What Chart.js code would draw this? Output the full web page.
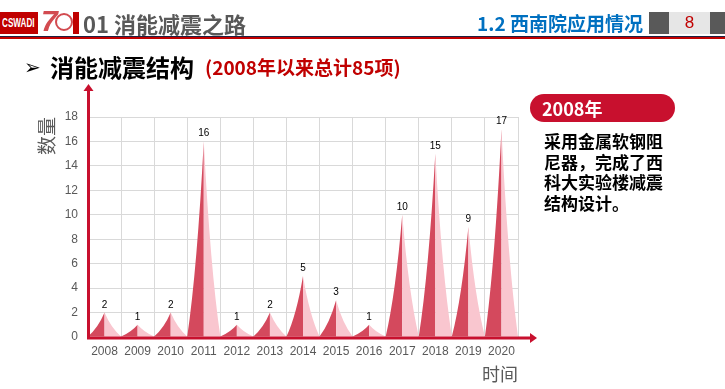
<!DOCTYPE html>
<html lang="zh">
<head>
<meta charset="utf-8">
<title>消能减震结构</title>
<script src="https://cdn.jsdelivr.net/npm/chart.js@4.4.1/dist/chart.umd.min.js"></script>
<style>
  html, body { margin: 0; padding: 0; background: #fff; }
  body { width: 725px; height: 389px; position: relative; overflow: hidden; font-family: "Noto Sans CJK SC", sans-serif; }
  #chart { position: absolute; left: 0; top: 0; }
  .abs { position: absolute; white-space: nowrap; }
  .logo { left: 0; top: 12px; width: 38px; height: 22px; background: #c00000; overflow: hidden; }
  .logo span { position: absolute; left: 2px; top: 0; color: #fff; font: bold 12px "Liberation Sans", sans-serif;
               line-height: 22px; transform: scaleX(0.68); transform-origin: 0 50%; }
  .seven { left: 41px; top: 6px; font: italic bold 30px "Liberation Sans", sans-serif; color: #d24b50; line-height: 30px; }
  .ring { left: 55px; top: 13px; width: 14px; height: 14px; border: 2px solid #d24b50; border-radius: 50%; }
  .redbar { left: 73px; top: 12px; width: 6px; height: 22px; background: #c00000; }
  .section { left: 83px; top: 9px; font-size: 22px; font-weight: bold; color: #595959; line-height: 28px; }
  .sub { right: 82px; top: 9px; font-size: 19px; font-weight: bold; color: #0070c0; line-height: 28px; }
  .box1 { left: 649px; top: 12px; width: 20px; height: 22px; background: #595959; }
  .box2 { left: 669px; top: 12px; width: 41px; height: 22px; background: #e6e6e6; color: #c00000;
          font: 17px "Liberation Sans", sans-serif; line-height: 22px; text-align: center; }
  .box3 { left: 710px; top: 12px; width: 15px; height: 22px; background: #595959; }
  .line1 { left: 0; top: 36px; width: 725px; height: 1px; background: #1f2041; }
  .line2 { left: 0; top: 37px; width: 725px; height: 2px; background: #c00000; }
  .arrow { left: 24px; top: 53px; font: bold 20px "DejaVu Sans", sans-serif; color: #000; line-height: 28px; }
  .title { left: 50px; top: 52px; font-size: 24px; font-weight: bold; color: #000; line-height: 30px; }
  .total { left: 205px; top: 54px; font-size: 19px; font-weight: bold; color: #c00000; line-height: 26px; }
  .pill { left: 530px; top: 94px; width: 145px; height: 28px; border-radius: 14px; background: #c8102e; color: #fff;
          font-size: 18px; font-weight: bold; line-height: 28px; box-sizing: border-box; padding-left: 12px; }
  .note { left: 544px; top: 131px; font-size: 17px; font-weight: bold; color: #000; line-height: 20.5px; }
</style>
</head>
<body>
<canvas id="chart" width="725" height="389"></canvas>

<div class="abs logo"><span>CSWADI</span></div>
<div class="abs seven">7</div>
<div class="abs ring"></div>
<div class="abs redbar"></div>
<div class="abs section">01 消能减震之路</div>
<div class="abs sub">1.2 西南院应用情况</div>
<div class="abs box1"></div>
<div class="abs box2">8</div>
<div class="abs box3"></div>
<div class="abs line1"></div>
<div class="abs line2"></div>

<div class="abs arrow">➢</div>
<div class="abs title">消能减震结构</div>
<div class="abs total">(2008年以来总计85项)</div>

<div class="abs pill">2008年</div>
<div class="abs note">采用金属软钢阻<br>尼器，完成了西<br>科大实验楼减震<br>结构设计。</div>

<script>
// data
const years = ['2008', '2009', '2010', '2011', '2012', '2013', '2014', '2015', '2016', '2017', '2018', '2019', '2020'];
const counts = [2, 1, 2, 16, 1, 2, 5, 3, 1, 10, 15, 9, 17];
const yMax = 18;
const yStep = 2;

const textGray = '#595959';
const gridGray = '#d9d9d9';
const axisRed = '#c8102e';
const spikeDark = '#d4495d';
const spikeLight = '#f9c6cf';
const numFont = '"Liberation Sans", Arial, sans-serif';
const cjkFont = '"Noto Sans CJK SC", sans-serif';

// draws a spike (dark left half, light right half) on every bar element
const spikePlugin = {
  id: 'spikes',
  afterDatasetsDraw(chart) {
    const ctx = chart.ctx;
    const meta = chart.getDatasetMeta(0);
    ctx.save();
    meta.data.forEach((bar, i) => {
      const { x, y, base, width } = bar.getProps(['x', 'y', 'base', 'width'], true);
      const half = width / 2;
      const h = base - y;

      ctx.beginPath();
      ctx.moveTo(x - half, base);
      ctx.quadraticCurveTo(x - half * 0.4, base - h * 0.35, x, y);
      ctx.lineTo(x, base);
      ctx.closePath();
      ctx.fillStyle = spikeDark;
      ctx.fill();

      ctx.beginPath();
      ctx.moveTo(x + half, base);
      ctx.quadraticCurveTo(x + half * 0.4, base - h * 0.35, x, y);
      ctx.lineTo(x, base);
      ctx.closePath();
      ctx.fillStyle = spikeLight;
      ctx.fill();

      // value label
      ctx.fillStyle = '#000';
      ctx.font = '10px ' + numFont;
      ctx.textAlign = 'center';
      ctx.textBaseline = 'alphabetic';
      ctx.fillText(String(counts[i]), x, y - 5);
    });
    ctx.restore();
  }
};

// red axis lines with arrow heads
const axisPlugin = {
  id: 'redAxes',
  afterDatasetsDraw(chart) {
    const ctx = chart.ctx;
    const { left, right, top, bottom } = chart.chartArea;
    const ax = left + 0.5;
    const ay = bottom + 1;
    ctx.save();
    ctx.strokeStyle = axisRed;
    ctx.fillStyle = axisRed;
    ctx.lineWidth = 3;

    ctx.beginPath();
    ctx.moveTo(ax, ay + 1.5);
    ctx.lineTo(ax, top - 26);
    ctx.moveTo(ax - 1.5, ay);
    ctx.lineTo(right + 13, ay);
    ctx.stroke();

    ctx.beginPath();
    ctx.moveTo(ax, top - 33);
    ctx.lineTo(ax - 5, top - 26);
    ctx.lineTo(ax + 5, top - 26);
    ctx.closePath();
    ctx.fill();

    ctx.beginPath();
    ctx.moveTo(right + 19, ay);
    ctx.lineTo(right + 12, ay - 5);
    ctx.lineTo(right + 12, ay + 5);
    ctx.closePath();
    ctx.fill();
    ctx.restore();
  }
};

const ctx = document.getElementById('chart').getContext('2d');
new Chart(ctx, {
  type: 'bar',
  data: {
    labels: years,
    datasets: [{
      label: '数量',
      data: counts,
      backgroundColor: 'rgba(0,0,0,0)',
      borderWidth: 0,
      barPercentage: 1,
      categoryPercentage: 1
    }]
  },
  options: {
    responsive: false,
    animation: false,
    devicePixelRatio: 1,
    layout: { padding: { top: 117, right: 207, bottom: 0, left: 0 } },
    plugins: {
      legend: { display: false },
      tooltip: { enabled: false }
    },
    scales: {
      x: {
        grid: { color: gridGray, drawTicks: false, offset: true },
        border: { display: false },
        ticks: { color: textGray, font: { family: numFont, size: 12 }, padding: 7, maxRotation: 0, autoSkip: false },
        title: { display: true, text: '时间', align: 'end', color: textGray,
                 font: { family: cjkFont, size: 18 }, padding: { top: 0, bottom: 4 } },
        afterFit(scale) { scale.height = 52; }
      },
      y: {
        min: 0,
        max: yMax,
        grid: { color: gridGray, drawTicks: false },
        border: { display: false },
        ticks: { stepSize: yStep, color: textGray, font: { family: numFont, size: 12 }, padding: 10 },
        title: { display: true, text: '数量', align: 'end', color: textGray,
                 font: { family: cjkFont, size: 19 }, padding: { top: 35, bottom: 0 } },
        afterFit(scale) { scale.width = 88; }
      }
    }
  },
  plugins: [spikePlugin, axisPlugin]
});
</script>
</body>
</html>
